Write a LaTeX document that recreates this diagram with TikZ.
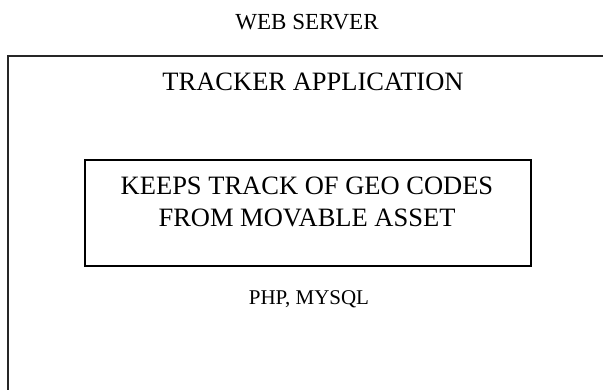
\documentclass[tikz,border=0pt]{standalone}
\usepackage{fontspec}
\setmainfont{Liberation Serif}
\begin{document}
\begin{tikzpicture}[x=1pt,y=-1pt,
  lbl/.style={inner sep=0pt,anchor=base},
  big/.style={font=\fontsize{26.5}{31}\selectfont},
  boxline/.style={draw=black!85,line width=1.5pt}]
\useasboundingbox (0,0) rectangle (603,389);
\clip (0,0) rectangle (603,389);
\draw[boxline] (8,56) rectangle (640,430);
\node[lbl,font=\fontsize{23}{27}\selectfont] (web) at (307,29) {WEB SERVER};
\node[lbl,big] (app) at (313,90) {TRACKER APPLICATION};
\node[draw,line width=1.5pt,minimum width=446pt,minimum height=106pt,inner sep=0pt] (keep) at (308,213) {};
\node[lbl,big] (k1) at (307,194) {KEEPS TRACK OF GEO CODES};
\node[lbl,big] (k2) at (307,226) {FROM MOVABLE ASSET};
\node[lbl,font=\fontsize{21}{25}\selectfont] (php) at (309,304) {PHP, MYSQL};
\end{tikzpicture}
\end{document}
